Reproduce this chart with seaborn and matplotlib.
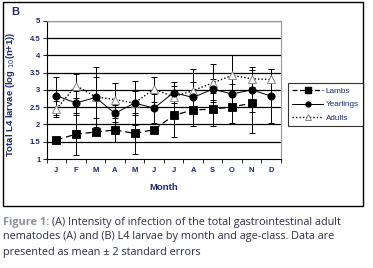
import numpy as np
import pandas as pd
import seaborn as sns
import matplotlib.pyplot as plt
from matplotlib.lines import Line2D
from matplotlib.patches import Rectangle

# values (log10(n+1) of L4 larvae)
months = ["J", "F", "M", "A", "M", "J", "J", "A", "S", "O", "N", "D"]
lambs = [1.55, 1.72, 1.78, 1.84, 1.74, 1.85, 2.26, 2.42, 2.44, 2.51, 2.61, np.nan]
lambs_err = [0.0, 0.6, 0.0, 0.35, 0.6, 0.0, 0.63, 0.0, 0.48, 0.48, 0.87, np.nan]
yearlings = [2.83, 2.62, 2.78, 2.32, 2.62, 2.47, 2.92, 2.78, 3.02, 2.88, 3.0, 2.82]
yearlings_err = [0.55, 0.35, 0.6, 0.25, 0.64, 0.42, 0.3, 0.82, 0.3, 0.3, 0.65, 0.77]
adults = [2.45, 3.12, 2.8, 2.72, 2.62, 3.02, 2.8, 2.98, 3.2, 3.42, 3.32, 3.3]
adults_err = [0.23, 0.35, 0.87, 0.47, 0.35, 0.36, 0.3, 0.25, 0.54, 0.58, 0.25, 0.3]

navy = "#1c2a6e"
sns.set_theme(style="white")
plt.rcParams["font.family"] = ["Liberation Sans", "DejaVu Sans"]

df = pd.DataFrame({
    "idx": list(range(12)) * 3,
    "value": lambs + yearlings + adults,
    "err": lambs_err + yearlings_err + adults_err,
    "group": ["Lambs"] * 12 + ["Yearlings"] * 12 + ["Adults"] * 12,
})

fig = plt.figure(figsize=(3.73, 2.68), dpi=100)
ax = fig.add_axes([0.1252, 0.4067, 0.628, 0.516])

styles = {
    "Lambs": dict(ls=(0, (5, 3)), marker="s", ms=5.8, mfc="black", mec="black", lw=0.9),
    "Yearlings": dict(ls="-", marker="o", ms=5.2, mfc="black", mec="black", lw=0.7),
    "Adults": dict(ls=(0, (1, 1.5)), marker="^", ms=5.8, mfc="white", mec="#777777", lw=1.0),
}

for name in ["Adults", "Yearlings", "Lambs"]:
    sub = df[df["group"] == name]
    ax.errorbar(sub["idx"], sub["value"], yerr=sub["err"], fmt="none",
                ecolor="black", elinewidth=0.7, capsize=2.5, capthick=0.7, zorder=2)
    st = styles[name]
    sns.lineplot(data=sub, x="idx", y="value", ax=ax, color="black",
                 linestyle=st["ls"], linewidth=st["lw"], marker=st["marker"],
                 markersize=st["ms"], markerfacecolor=st["mfc"],
                 markeredgecolor=st["mec"], markeredgewidth=0.6, zorder=3)

ax.set_xlim(-0.5, 11.5)
ax.set_ylim(1, 5)
ax.set_yticks([1, 1.5, 2, 2.5, 3, 3.5, 4, 4.5, 5])
ax.set_yticklabels(["1", "1.5", "2", "2.5", "3", "3.5", "4", "4.5", "5"])
ax.set_xticks(range(12))
ax.set_xticklabels(months)
ax.set_xticks(np.arange(-0.5, 12, 1), minor=True)
ax.tick_params(axis="x", which="major", length=0, pad=6, labelsize=5.5, labelcolor=navy)
ax.tick_params(axis="x", which="minor", length=3, width=0.6, direction="out", color="black", bottom=True)
ax.tick_params(axis="y", length=3, width=0.6, direction="out", color="black", left=True,
               labelsize=5.5, labelcolor=navy, pad=1.5)
for lab in ax.get_xticklabels() + ax.get_yticklabels():
    lab.set_fontweight("bold")

for y in [1.5, 2, 2.5, 3, 3.5, 4, 4.5, 5]:
    ax.axhline(y, color="black", lw=0.9, zorder=1)

for side in ["top", "right"]:
    ax.spines[side].set_color("#999999")
    ax.spines[side].set_linewidth(0.8)
ax.spines["left"].set_color("black")
ax.spines["bottom"].set_color("black")
ax.spines["left"].set_linewidth(0.8)
ax.spines["bottom"].set_linewidth(0.8)

ax.set_xlabel("Month", fontsize=6.8, fontweight="bold", color=navy, labelpad=6)
ax.set_ylabel("Total L4 larvae (log $_{10}$(n+1))", fontsize=6.8, fontweight="bold",
              color=navy, labelpad=4)
ax.yaxis.set_label_coords(-0.125, 0.47)

handles = [
    Line2D([], [], color="black", linestyle=(0, (4, 2)), lw=0.9, marker="s", ms=5,
           mfc="black", mec="black"),
    Line2D([], [], color="black", linestyle="-", lw=0.7, marker="o", ms=3.5,
           mfc="black", mec="black"),
    Line2D([], [], color="black", linestyle=(0, (1, 1.5)), lw=1.0, marker="^", ms=4,
           mfc="white", mec="#777777", markeredgewidth=0.6),
]
leg = fig.legend(handles, ["Lambs", "Yearlings", "Adults"], loc="upper left",
                 bbox_to_anchor=(288 / 373, 1 - 83 / 268), fontsize=5.9,
                 frameon=True, fancybox=False, handlelength=3.8, handletextpad=0.3,
                 borderpad=0.5, labelspacing=0.72, borderaxespad=0)
leg.get_frame().set_edgecolor("black")
leg.get_frame().set_linewidth(0.8)
for t in leg.get_texts():
    t.set_color(navy)

fig.text(11 / 373, 1 - 12 / 268, "B", fontsize=8, fontweight="bold", color=navy,
         va="center", ha="left")

fig.patches.append(Rectangle((3.5 / 373, 1 - 206 / 268), 359 / 373, 203.5 / 268,
                             transform=fig.transFigure, fill=False, edgecolor="black",
                             linewidth=1.0))

cap_font = ["Open Sans", "DejaVu Sans"]
cap_size = 7.8
t0 = fig.text(3 / 373, 1 - 222 / 268, "Figure 1:", fontsize=cap_size, fontweight="bold",
              color="#8b929c", va="center", ha="left", family=cap_font)
fig.canvas.draw()
bb = t0.get_window_extent()
fig.text((bb.x1 + 2.5) / 373, 1 - 222 / 268,
         "(A) Intensity of infection of the total gastrointestinal adult",
         fontsize=cap_size, color="#2b2f4a", va="center", ha="left", family=cap_font)
fig.text(3 / 373, 1 - 237 / 268,
         "nematodes (A) and (B) L4 larvae by month and age-class. Data are",
         fontsize=cap_size, color="#2b2f4a", va="center", ha="left", family=cap_font)
fig.text(3 / 373, 1 - 252 / 268, "presented as mean \u00b1 2 standard errors",
         fontsize=cap_size, color="#2b2f4a", va="center", ha="left", family=cap_font)

fig.savefig("out.png", dpi=100)
